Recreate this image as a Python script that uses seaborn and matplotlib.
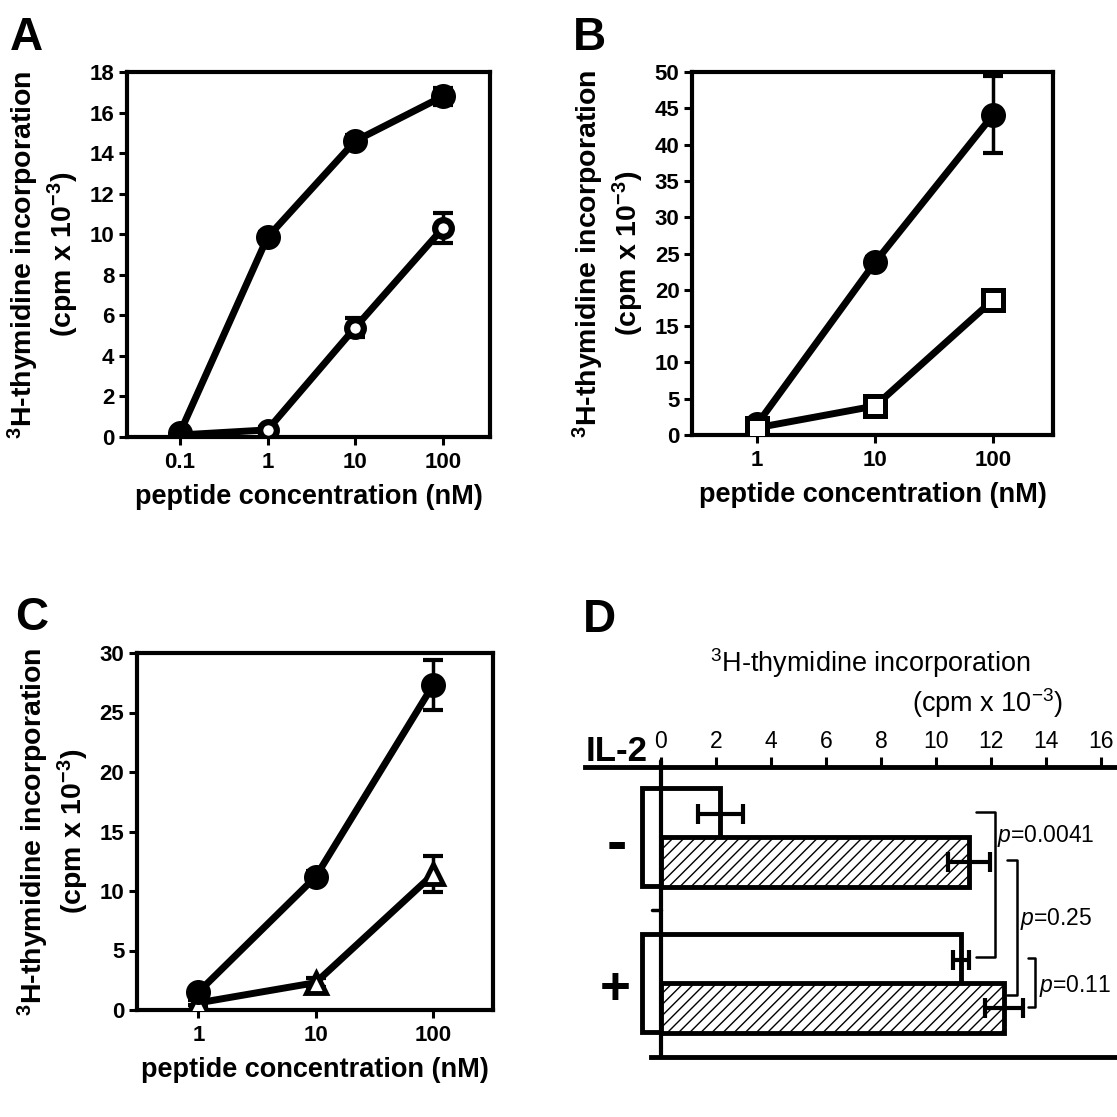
import numpy as np
import matplotlib
matplotlib.use("Agg")
import matplotlib.pyplot as plt
import seaborn as sns

# ---------------- data ----------------
conc_A = [0.1, 1, 10, 100]
A_filled = [0.2, 9.85, 14.6, 16.8]
A_filled_err = [0.2, 0.25, 0.3, 0.42]
A_open = [0.1, 0.35, 5.4, 10.3]
A_open_err = [0.1, 0.15, 0.45, 0.75]
ticklabels_A = ["0.1", "1", "10", "100"]

conc_BC = [1, 10, 100]
ticklabels_BC = ["1", "10", "100"]
B_filled = [1.5, 23.8, 44.1]
B_filled_err = [0.5, 0.7, 5.3]
B_open = [1.0, 4.0, 18.6]
B_open_err = [0.3, 0.3, 0.6]

C_filled = [1.5, 11.2, 27.3]
C_filled_err = [0.3, 0.5, 2.1]
C_open = [0.6, 2.3, 11.4]
C_open_err = [0.2, 0.4, 1.5]

D_groups = ["-", "+"]
D_open = [2.15, 10.9]
D_open_err = [0.82, 0.3]
D_hatched = [11.2, 12.47]
D_hatched_err = [0.75, 0.7]
D_ticks = [0, 2, 4, 6, 8, 10, 12, 14, 16]
p_labels = ["0.0041", "0.25", "0.11"]

# ---------------- style ----------------
sns.set_style("ticks")
plt.rcParams["font.family"] = ["Liberation Sans", "DejaVu Sans"]
plt.rcParams["mathtext.fontset"] = "custom"
plt.rcParams["mathtext.rm"] = "Liberation Sans"
plt.rcParams["mathtext.it"] = "Liberation Sans:italic"
plt.rcParams["mathtext.bf"] = "Liberation Sans:bold"
plt.rcParams["mathtext.default"] = "regular"
plt.rcParams["hatch.linewidth"] = 1.0
plt.rcParams["axes.linewidth"] = 3
for k in ["text.color", "axes.labelcolor", "xtick.color", "ytick.color",
          "axes.edgecolor", "xtick.labelcolor", "ytick.labelcolor"]:
    plt.rcParams[k] = "black"

W = 1117.0
def box(l, t, r, b):
    return [l / W, 1 - b / W, (r - l) / W, (b - t) / W]

fig = plt.figure(figsize=(11.17, 11.17), dpi=100)
fig.patch.set_facecolor("white")

ylab = "$^{3}$H-thymidine incorporation\n(cpm x 10$^{-3}$)"
xlab = "peptide concentration (nM)"

def style_line_ax(ax, xt, xtl, yt, xlim, ylim):
    ax.set_xscale("log")
    ax.set_xlim(*xlim)
    ax.set_ylim(*ylim)
    ax.set_xticks(xt)
    ax.set_xticklabels(xtl)
    ax.xaxis.set_minor_locator(matplotlib.ticker.NullLocator())
    ax.set_yticks(yt)
    ax.set_yticklabels([str(v) for v in yt])
    for s in ax.spines.values():
        s.set_linewidth(3)
        s.set_color("black")
    ax.tick_params(axis="both", direction="out", length=6, width=2.2,
                   labelsize=16, colors="black")
    ax.tick_params(axis="x", pad=5)
    ax.tick_params(axis="y", pad=3)
    for lab in ax.get_xticklabels() + ax.get_yticklabels():
        lab.set_fontweight("bold")
    ax.set_xlabel(xlab, fontsize=19.5, fontweight="bold", labelpad=8)
    ax.set_ylabel(ylab, fontsize=20.5, fontweight="bold", labelpad=6,
                  linespacing=1.2)
    ax.set_facecolor("white")

def series(ax, x, y, err, marker, ms, mew, face, z):
    ax.errorbar(x, y, yerr=err, fmt="none", ecolor="black", elinewidth=2.5,
                capsize=7, capthick=3, zorder=z)
    sns.lineplot(x=x, y=y, ax=ax, color="black", linewidth=5, marker=marker,
                 markersize=ms, markerfacecolor=face, markeredgecolor="black",
                 markeredgewidth=mew, zorder=z + 0.5, errorbar=None)

# ---- Panel A ----
axA = fig.add_axes(box(127, 72, 490, 437))
series(axA, conc_A, A_open, A_open_err, "o", 12, 4.5, "white", 3)
series(axA, conc_A, A_filled, A_filled_err, "o", 16, 2, "black", 5)
style_line_ax(axA, conc_A, ticklabels_A, list(range(0, 19, 2)),
              (0.025, 344), (0, 18))

# ---- Panel B ----
axB = fig.add_axes(box(692, 72, 1053, 435))
series(axB, conc_BC, B_filled, B_filled_err, "o", 16, 2, "black", 3)
series(axB, conc_BC, B_open, B_open_err, "s", 14.5, 3.6, "white", 5)
style_line_ax(axB, conc_BC, ticklabels_BC, list(range(0, 51, 5)),
              (0.28, 322), (0, 50))

# ---- Panel C ----
axC = fig.add_axes(box(137, 653, 493, 1010))
series(axC, conc_BC, C_open, C_open_err, "^", 14, 3.5, "white", 3)
series(axC, conc_BC, C_filled, C_filled_err, "o", 16, 2, "black", 5)
style_line_ax(axC, conc_BC, ticklabels_BC, list(range(0, 31, 5)),
              (0.30, 324), (0, 30))

# ---- Panel D ----
axD = fig.add_axes(box(585, 767, 1117, 1057))
ypos = np.arange(len(D_groups))
left0 = -0.7
# open bars (drawn spanning the whole group, hatched bars overlaid)
axD.barh(ypos, [v - left0 for v in D_open], left=left0, height=0.67,
         color="white", edgecolor="black", linewidth=3.5, zorder=2)
axD.barh(ypos + 0.171, D_hatched, left=0, height=0.342, color="white",
         edgecolor="black", linewidth=3.5, hatch="///", zorder=3)
axD.errorbar(D_open, ypos - 0.16, xerr=D_open_err, fmt="none", ecolor="black",
             elinewidth=3, capsize=7.5, capthick=3, zorder=6)
axD.errorbar(D_hatched, ypos + 0.17, xerr=D_hatched_err, fmt="none",
             ecolor="black", elinewidth=3, capsize=7.5, capthick=3, zorder=6)
axD.axvline(0, color="black", lw=3, zorder=7, ymin=0, ymax=1.02, clip_on=False)
axD.plot([-0.33, 0], [0.5, 0.5], color="black", lw=2.5, zorder=7)
axD.set_xlim(-2.76, 16.58)
axD.set_ylim(1.507, -0.479)
axD.spines["left"].set_visible(False)
axD.spines["right"].set_visible(False)
axD.spines["top"].set_linewidth(3.5)
axD.spines["bottom"].set_linewidth(3.5)
axD.spines["bottom"].set_bounds(-0.35, 16.58)
axD.xaxis.tick_top()
axD.set_xticks(D_ticks)
axD.set_xticklabels([str(v) for v in D_ticks])
axD.set_yticks([])
axD.tick_params(axis="x", direction="out", length=7, width=2.2, labelsize=16.5,
                pad=3, colors="black")
axD.set_facecolor("white")

axD.text(-1.6, ypos[0] + 0.06, D_groups[0], fontsize=44, fontweight="bold",
         ha="center", va="center")
axD.text(-1.65, ypos[1] + 0.05, D_groups[1], fontsize=38, fontweight="bold",
         ha="center", va="center")
axD.text(-2.72, -0.52, "IL-2", fontsize=25, fontweight="bold",
         ha="left", va="baseline")

brackets = [
    (11.45, 12.15, -0.17, 0.82, 12.22, -0.007),
    (12.58, 12.95, 0.157, 1.08, 13.05, 0.56),
    (13.35, 13.6, 0.83, 1.165, 13.75, 1.02),
]
for (x0, x1, y0, y1, tx, ty), pl in zip(brackets, p_labels):
    axD.plot([x0, x1, x1, x0], [y0, y0, y1, y1], color="black", lw=1.8,
             clip_on=False, zorder=8)
    axD.text(tx, ty, "$\\mathit{p}$=" + pl, fontsize=16.5, ha="left",
             va="center", clip_on=False)

fig.text(870 / W, 1 - 663 / W, "$^{3}$H-thymidine incorporation",
         fontsize=19.5, ha="center", va="center")
fig.text(1063 / W, 1 - 703 / W, "(cpm x 10$^{-3}$)", fontsize=19.5,
         ha="right", va="center")

# panel letters
for lab, x, y in [("A", 10, 50), ("B", 573, 50), ("C", 15, 630), ("D", 583, 632)]:
    fig.text(x / W, 1 - y / W, lab, fontsize=33, fontweight="bold",
             ha="left", va="baseline")

fig.savefig("out.png", dpi=100, facecolor="white")
